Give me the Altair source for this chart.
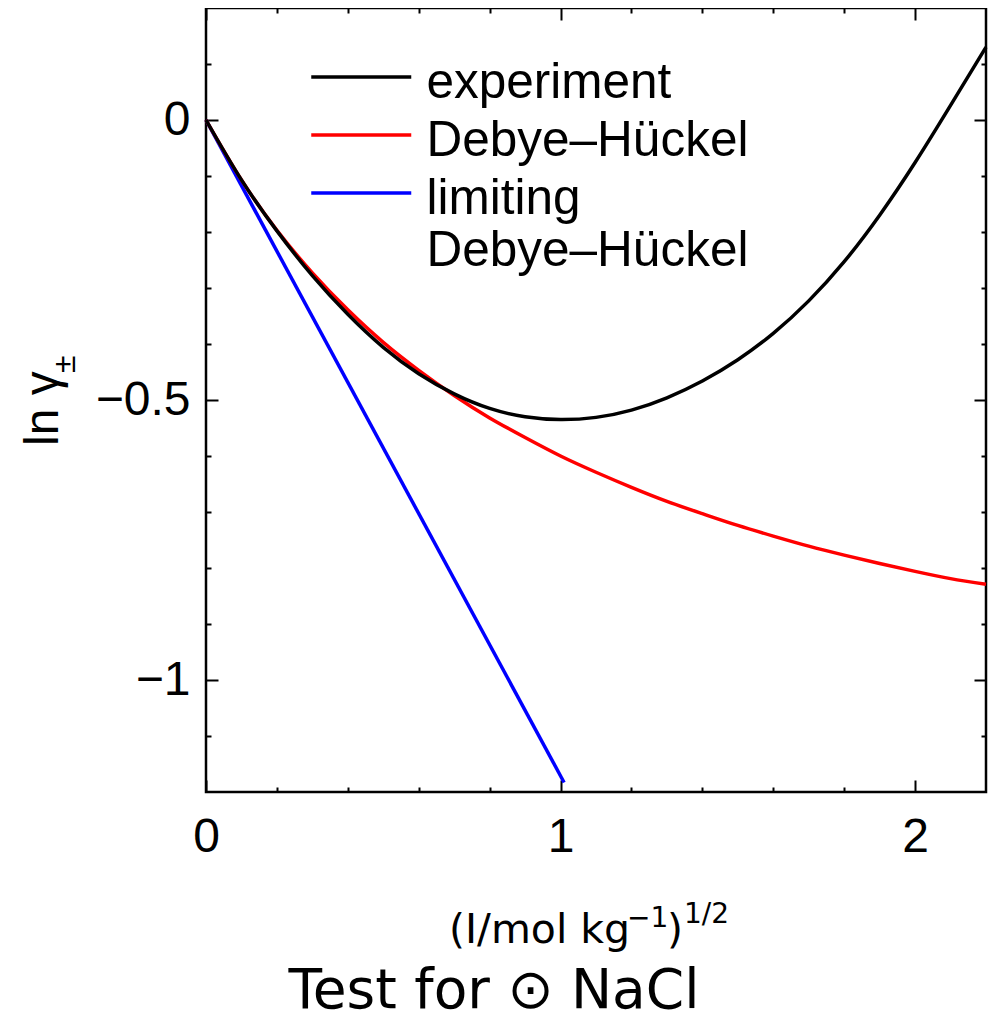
import altair as alt
import pandas as pd

# ---- data ----
x_grid = [0.0, 0.1, 0.2, 0.3, 0.4, 0.5, 0.6, 0.7, 0.8, 0.9, 1.0, 1.1,
          1.2, 1.3, 1.4, 1.5, 1.6, 1.7, 1.8, 1.9, 2.0, 2.1, 2.2]
experiment = [0.000, -0.107, -0.198, -0.278, -0.347, -0.406, -0.453, -0.489,
              -0.515, -0.530, -0.535, -0.531, -0.518, -0.496, -0.466, -0.428,
              -0.381, -0.323, -0.253, -0.170, -0.076, 0.026, 0.130]
debye_huckel = [0.000, -0.107, -0.197, -0.273, -0.339, -0.397, -0.447, -0.492,
                -0.532, -0.567, -0.600, -0.629, -0.656, -0.681, -0.703, -0.724,
                -0.743, -0.761, -0.777, -0.792, -0.806, -0.819, -0.829]
limiting_x = [0.0, 1.01]
limiting = [0.0, -1.183]

series_names = ["experiment", "Debye–Hückel", "limiting Debye–Hückel"]
series_colors = ["#000000", "#ff0000", "#0000ff"]

x_major = [0, 1, 2]
x_minor = [0.2, 0.4, 0.6, 0.8, 1.2, 1.4, 1.6, 1.8]
y_major = [0, -0.5, -1]
y_minor = [0.1, -0.1, -0.2, -0.3, -0.4, -0.6, -0.7, -0.8, -0.9, -1.1]

title_text = "Test for ⊙ NaCl"
xlabel_main = "(I/mol kg"
xlabel_sup1 = "−1"
xlabel_paren = ")"
xlabel_sup2 = "1/2"
ylabel_main = "ln γ"
ylabel_sub = "±"

# ---- tables ----
df_exp = pd.DataFrame({"x": x_grid, "y": experiment, "series": series_names[0]})
df_dh = pd.DataFrame({"x": x_grid, "y": debye_huckel, "series": series_names[1]})
df_lim = pd.DataFrame({"x": limiting_x, "y": limiting, "series": series_names[2]})

TICK_FONT = "Liberation Sans"
LW = 3.5
xs = alt.Scale(domain=[0, 2.2], nice=False, zero=False)
ys = alt.Scale(domain=[-1.2, 0.2], nice=False, zero=False)


def axis(orient, values, size, labels, pad=0):
    return alt.Axis(orient=orient, values=values, tickSize=size, offset=-size,
                    labels=labels, title=None, domain=False, grid=False,
                    ticks=True, tickWidth=2, tickColor="black",
                    labelFont=TICK_FONT, labelFontSize=48, labelColor="black",
                    labelPadding=pad, labelFlush=False, labelOverlap=False,
                    format="~g")


legend = alt.Legend(
    orient="none", legendX=80.5, legendY=50.5, title=None, padding=0,
    symbolType="M0,-0.5H8", symbolSize=625, symbolStrokeWidth=LW,
    labelFont=TICK_FONT, labelFontSize=49.5, labelColor="black",
    labelOffset=90.5, rowPadding=7, labelLimit=0,
    labelExpr="datum.label == 'limiting Debye–Hückel' ? ['limiting', 'Debye–Hückel'] : datum.label",
)
color = alt.Color("series:N", scale=alt.Scale(domain=series_names, range=series_colors),
                  legend=legend)

blue = alt.Chart(df_lim).mark_line(strokeWidth=LW).encode(
    x=alt.X("x:Q", scale=xs, axis=axis("top", x_major, 12, False)),
    y=alt.Y("y:Q", scale=ys, axis=axis("right", y_major, 12, False)),
    color=color,
)
red = alt.Chart(df_dh).mark_line(strokeWidth=LW, interpolate="natural").encode(
    x=alt.X("x:Q", scale=xs, axis=axis("bottom", x_minor, 5, False)),
    y=alt.Y("y:Q", scale=ys, axis=axis("left", y_minor, 5, False)),
    color=color,
)
black = alt.Chart(df_exp).mark_line(strokeWidth=LW, interpolate="natural").encode(
    x=alt.X("x:Q", scale=xs, axis=axis("bottom", x_major, 12, True, 21.5)),
    y=alt.Y("y:Q", scale=ys, axis=axis("left", y_major, 12, True, 16)),
    color=color,
)
ghost = alt.Chart(df_exp).mark_line(strokeOpacity=0).encode(
    x=alt.X("x:Q", scale=xs, axis=axis("top", x_minor, 5, False)),
    y=alt.Y("y:Q", scale=ys, axis=axis("right", y_minor, 5, False)),
)


def label(text, x, y, size, font, angle=0, align="left"):
    d = pd.DataFrame({"t": [text]})
    return alt.Chart(d).mark_text(
        font=font, fontSize=size, align=align, baseline="alphabetic",
        angle=angle, color="black"
    ).encode(text="t:N", x=alt.value(x), y=alt.value(y))


texts = [
    label(title_text, 288, 1000, 55, "DejaVu Sans", align="center"),
    label(xlabel_main, 243, 935, 41, "DejaVu Sans"),
    label(xlabel_sup1, 421, 919, 28, "DejaVu Sans"),
    label(xlabel_paren, 461, 935, 41, "DejaVu Sans"),
    label(xlabel_sup2, 478, 915, 28, "DejaVu Sans"),
    label(ylabel_main, -148, 438, 48, TICK_FONT, angle=270),
    label(ylabel_sub, -131, 365, 32, TICK_FONT, angle=270),
]

chart = alt.layer(ghost, blue, red, black, *texts).resolve_scale(
    x="shared", y="shared", color="shared"
).resolve_axis(
    x="independent", y="independent"
).properties(
    width=780, height=784,
    autosize=alt.AutoSizeParams(type="none"),
    padding={"left": 198, "top": 0, "right": 2, "bottom": 230},
    background="white",
).configure_view(stroke="black", strokeWidth=2.5)

chart.save("out.html", embed_options={"renderer": "svg", "actions": False})
